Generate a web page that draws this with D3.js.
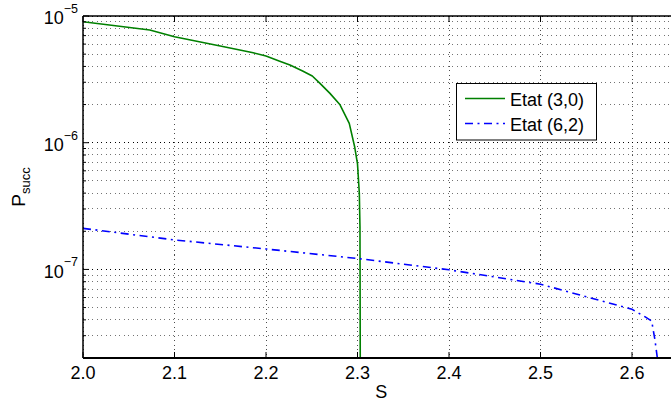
<!DOCTYPE html>
<html><head><meta charset="utf-8">
<script src="https://cdn.jsdelivr.net/npm/d3@7"></script>
<style>body{margin:0;background:#fff}svg{display:block}text{font-family:"Liberation Sans",Arial,Helvetica,sans-serif;fill:#000}</style>
</head><body><svg id="c" width="671" height="401"></svg>
<script>
// ---- data ----
const seriesNames = ["Etat (3,0)", "Etat (6,2)"];
const s30 = [2.0, 2.073, 2.1, 2.15, 2.186, 2.2, 2.215, 2.2262, 2.24, 2.2506, 2.259, 2.2699, 2.2809, 2.291, 2.297, 2.300, 2.302, 2.3027, 2.303];
const p30 = [9.0e-6, 7.75e-6, 6.86e-6, 5.8e-6, 5.12e-6, 4.83e-6, 4.4e-6, 4.1e-6, 3.68e-6, 3.36e-6, 2.94e-6, 2.45e-6, 1.99e-6, 1.42e-6, 9.2e-7, 6.8e-7, 3.97e-7, 2.15e-7, 2.0e-8];
const s62 = [2.0, 2.1, 2.2, 2.3, 2.4, 2.5, 2.6, 2.614, 2.6215, 2.625, 2.6277];
const p62 = [2.11e-7, 1.71e-7, 1.45e-7, 1.22e-7, 9.93e-8, 7.65e-8, 4.85e-8, 4.24e-8, 3.92e-8, 2.8e-8, 2.0e-8];
const xTicks = [2.0, 2.1, 2.2, 2.3, 2.4, 2.5, 2.6];
const yDecades = [-5, -6, -7];
const xDomain = [2.0, 2.65];
const yDomain = [2e-8, 1e-5];

const svg = d3.select("#c");
const L = 83, R = 677.75, T = 16, B = 358;
const x = d3.scaleLinear().domain(xDomain).range([L, R]);
const y = d3.scaleLog().domain(yDomain).range([B, T]);

svg.append("defs").append("clipPath").attr("id","clip")
  .append("rect").attr("x",L).attr("y",T).attr("width",R-L).attr("height",B-T);

const minorVals = [];
for (let e = -8; e <= -6; e++) for (let m = 2; m <= 9; m++) {
  const v = m * Math.pow(10, e);
  if (v > yDomain[0] && v < yDomain[1]) minorVals.push(v);
}
const majorVals = yDecades.map(e => Math.pow(10, e));

const g = svg.append("g");
g.selectAll(".hmin").data(minorVals).join("line")
  .attr("x1", L).attr("x2", R).attr("y1", d => y(d)).attr("y2", d => y(d))
  .attr("stroke", "#000").attr("stroke-opacity", 0.55).attr("stroke-width", 1)
  .attr("stroke-dasharray", "1,3.5").attr("shape-rendering","crispEdges");
g.selectAll(".hmaj").data(majorVals).join("line")
  .attr("x1", L).attr("x2", R).attr("y1", d => y(d)).attr("y2", d => y(d))
  .attr("stroke", "#000").attr("stroke-width", 1)
  .attr("stroke-dasharray", "1,3.5").attr("shape-rendering","crispEdges");
g.selectAll(".vg").data(xTicks).join("line")
  .attr("x1", d => x(d)).attr("x2", d => x(d)).attr("y1", T).attr("y2", B)
  .attr("stroke", "#000").attr("stroke-opacity", 0.7).attr("stroke-width", 1)
  .attr("stroke-dasharray", "1,3.5").attr("shape-rendering","crispEdges");

const line = d3.line().x(d => x(d[0])).y(d => y(d[1]));
const d30 = s30.map((s, i) => [s, p30[i]]);
const d62 = s62.map((s, i) => [s, p62[i]]);
const lg = svg.append("g").attr("clip-path","url(#clip)");
lg.append("path").datum(d30).attr("d", line).attr("fill","none")
  .attr("stroke","#008000").attr("stroke-width",1.6).attr("stroke-linejoin","round");
lg.append("path").datum(d62).attr("d", line).attr("fill","none")
  .attr("stroke","#0000ff").attr("stroke-width",1.6).attr("stroke-dasharray","8,4.5,2,4.5");

const ax = svg.append("g").attr("stroke","#000");
ax.append("line").attr("x1",L).attr("x2",R).attr("y1",B).attr("y2",B).attr("stroke-width",2);
ax.append("line").attr("x1",L).attr("x2",R).attr("y1",T).attr("y2",T).attr("stroke-width",1.5);
ax.append("line").attr("x1",L).attr("x2",L).attr("y1",T).attr("y2",B).attr("stroke-width",1.5);
xTicks.forEach(t => {
  ax.append("line").attr("x1",x(t)).attr("x2",x(t)).attr("y1",B).attr("y2",B-6).attr("stroke-width",1);
  ax.append("line").attr("x1",x(t)).attr("x2",x(t)).attr("y1",T).attr("y2",T+6).attr("stroke-width",1);
});
majorVals.forEach(v => ax.append("line").attr("x1",L).attr("x2",L+6).attr("y1",y(v)).attr("y2",y(v)).attr("stroke-width",1));
minorVals.forEach(v => ax.append("line").attr("x1",L).attr("x2",L+3).attr("y1",y(v)).attr("y2",y(v)).attr("stroke-width",1));

const fmt = d3.format(".1f");
svg.selectAll(".xl").data(xTicks).join("text")
  .attr("x", d => x(d)).attr("y", B + 21).attr("text-anchor","middle")
  .attr("font-size", 18).text(d => fmt(d));
yDecades.forEach(e => {
  const yy = y(Math.pow(10, e));
  const t = svg.append("text").attr("x", 78).attr("y", yy + 8.3).attr("text-anchor","end").attr("font-size",18);
  t.append("tspan").text("10");
  t.append("tspan").attr("font-size",12.5).attr("dy",-11.5).text("\u2212" + (-e));
});

svg.append("text").attr("x", (L + R) / 2 + 1).attr("y", 398).attr("text-anchor","middle").attr("font-size",18).text("S");
const yl = svg.append("text").attr("transform", `translate(25,${(T + B) / 2}) rotate(-90)`)
  .attr("text-anchor","middle").attr("font-size",19);
yl.append("tspan").text("P");
yl.append("tspan").attr("font-size",13).attr("dy",5).text("succ");

const lgX = 456.5, lgY = 83.5, lgW = 140, lgH = 56.5;
const leg = svg.append("g");
leg.append("rect").attr("x",lgX).attr("y",lgY).attr("width",lgW).attr("height",lgH)
  .attr("fill","#fff").attr("stroke","#000").attr("stroke-width",1);
const colors = ["#008000", "#0000ff"], dashes = [null, "8,4.5,2,4.5"];
seriesNames.forEach((n, i) => {
  const yy = lgY + 15 + i * 25;
  leg.append("line").attr("x1", lgX + 8.5).attr("x2", lgX + 48.5).attr("y1", yy).attr("y2", yy)
    .attr("stroke", colors[i]).attr("stroke-width",1.6).attr("stroke-dasharray", dashes[i]);
  leg.append("text").attr("x", lgX + 53.5).attr("y", yy + 7.7).attr("font-size",18).text(n);
});
</script></body></html>
